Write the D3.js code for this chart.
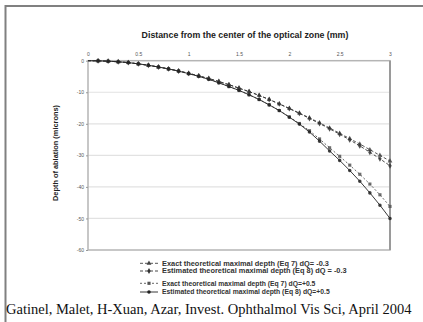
<!DOCTYPE html>
<html>
<head>
<meta charset="utf-8">
<script src="https://cdn.jsdelivr.net/npm/d3@7"></script>
<style>
  html, body { margin: 0; padding: 0; background: #fff; }
  svg { display: block; }
</style>
</head>
<body>
<svg id="chart" width="423" height="322"></svg>
<script>
// Distance from the centre of the optical zone (mm)
const distances = [0, 0.1, 0.2, 0.3, 0.4, 0.5, 0.6, 0.7, 0.8, 0.9, 1.0,
  1.1, 1.2, 1.3, 1.4, 1.5, 1.6, 1.7, 1.8, 1.9, 2.0,
  2.1, 2.2, 2.3, 2.4, 2.5, 2.6, 2.7, 2.8, 2.9, 3.0];

// Depth of ablation (microns) for each profile
const exactNeg = [0, -0.05, -0.15, -0.35, -0.6, -1.0, -1.45, -2.0, -2.6, -3.25, -4.0,
  -4.8, -5.65, -6.6, -7.6, -8.7, -9.8, -11.0, -12.3, -13.7, -15.1,
  -16.6, -18.1, -19.7, -21.3, -23.0, -24.7, -26.4, -28.2, -30.0, -31.8];
const estimNeg = [0, -0.05, -0.15, -0.35, -0.6, -1.0, -1.45, -2.0, -2.6, -3.25, -4.0,
  -4.8, -5.65, -6.6, -7.6, -8.7, -9.8, -11.0, -12.3, -13.7, -15.2,
  -16.7, -18.3, -19.9, -21.6, -23.3, -25.1, -27.0, -29.0, -31.1, -33.3];
const exactPos = [0, -0.05, -0.15, -0.35, -0.6, -1.0, -1.45, -2.0, -2.6, -3.3, -4.1,
  -4.95, -5.9, -7.0, -8.2, -9.4, -10.8, -12.3, -14.0, -15.8, -17.8,
  -19.9, -22.2, -24.8, -27.6, -30.3, -33.1, -36.0, -39.1, -42.5, -46.2];
const estimPos = [0, -0.05, -0.15, -0.35, -0.6, -1.0, -1.45, -2.0, -2.6, -3.3, -4.1,
  -4.95, -5.9, -7.0, -8.2, -9.4, -10.8, -12.3, -14.0, -15.8, -17.9,
  -20.1, -22.6, -25.5, -28.6, -31.6, -34.8, -38.2, -41.9, -45.8, -50.0];

const xTickValues = [0, 0.5, 1, 1.5, 2, 2.5, 3];
const xTickLabels = ["0", "0.5", "1", "1.5", "2", "2.5", "3"];
const yTickValues = [0, -10, -20, -30, -40, -50, -60];

const seriesNames = [
  "Exact theoretical maximal depth (Eq 7)  dQ= -0.3",
  "Estimated theoretical maximal depth (Eq 8)  dQ = -0.3",
  "Exact theoretical maximal depth (Eq 7)  dQ=+0.5",
  "Estimated theoretical maximal depth (Eq 8)  dQ=+0.5"
];

const series = [
  { name: seriesNames[0], values: exactNeg, symbol: d3.symbolTriangle, dash: "3,2", color: "#444" },
  { name: seriesNames[1], values: estimNeg, symbol: d3.symbolDiamond, dash: "3,2", color: "#333" },
  { name: seriesNames[2], values: exactPos, symbol: d3.symbolSquare, dash: "2,2", color: "#555" },
  { name: seriesNames[3], values: estimPos, symbol: d3.symbolCircle, dash: null, color: "#222" }
];

const svg = d3.select("#chart");
const sans = "Arial, 'Liberation Sans', sans-serif";

// outer frame (top and left edges)
svg.append("path")
  .attr("d", "M5.5,322 V6 H423")
  .attr("fill", "none")
  .attr("stroke", "#808080")
  .attr("stroke-width", 2);

const plot = { left: 88, right: 390, top: 60.7, bottom: 250 };

const x = d3.scaleLinear().domain([0, 3]).range([plot.left, plot.right]);
const y = d3.scaleLinear().domain([0, -60]).range([plot.top, plot.bottom]);

// horizontal gridlines
svg.append("g")
  .selectAll("line")
  .data(yTickValues.slice(1, -1))
  .join("line")
  .attr("x1", plot.left).attr("x2", plot.right)
  .attr("y1", d => y(d)).attr("y2", d => y(d))
  .attr("stroke", "#e2e2e2")
  .attr("stroke-width", 1.2);

// plot area border
svg.append("rect")
  .attr("x", plot.left).attr("y", plot.top)
  .attr("width", plot.right - plot.left)
  .attr("height", plot.bottom - plot.top)
  .attr("fill", "none")
  .attr("stroke", "#b5b5b5")
  .attr("stroke-width", 1.5);
svg.append("line")
  .attr("x1", plot.right).attr("x2", plot.right)
  .attr("y1", plot.top).attr("y2", plot.bottom)
  .attr("stroke", "#9a9a9a")
  .attr("stroke-width", 2);

// top x axis
const xAxis = d3.axisTop(x)
  .tickValues(xTickValues)
  .tickFormat((d, i) => xTickLabels[i])
  .tickSize(0)
  .tickPadding(5);
const gx = svg.append("g").attr("transform", `translate(0,${plot.top})`).call(xAxis);
gx.select(".domain").remove();
gx.selectAll("text")
  .attr("font-family", sans)
  .attr("font-size", 5)
  .attr("fill", "#555");

// left y axis
const yAxis = d3.axisLeft(y)
  .tickValues(yTickValues)
  .tickFormat(d3.format("d"))
  .tickSize(2)
  .tickPadding(2);
const gy = svg.append("g").attr("transform", `translate(${plot.left},0)`).call(yAxis);
gy.select(".domain").remove();
gy.selectAll("line").attr("stroke", "#999");
gy.selectAll("text")
  .text(d => d === 0 ? "0" : "-" + Math.abs(d))
  .attr("font-family", sans)
  .attr("font-size", 5)
  .attr("fill", "#555");

// titles
svg.append("text")
  .attr("x", 245).attr("y", 37.5)
  .attr("text-anchor", "middle")
  .attr("font-family", sans)
  .attr("font-weight", "bold")
  .attr("font-size", 8.8)
  .attr("fill", "#222")
  .text("Distance from the center of the optical zone (mm)");

svg.append("text")
  .attr("transform", `translate(57.5,153) rotate(-90)`)
  .attr("text-anchor", "middle")
  .attr("font-family", sans)
  .attr("font-weight", "bold")
  .attr("font-size", 7.4)
  .attr("fill", "#222")
  .text("Depth of ablation (microns)");

// curves
const line = d3.line()
  .x((d, i) => x(distances[i]))
  .y(d => y(d));

const symbolSize = 10;

series.forEach(s => {
  svg.append("path")
    .datum(s.values)
    .attr("d", line)
    .attr("fill", "none")
    .attr("stroke", s.color)
    .attr("stroke-width", 0.9)
    .attr("stroke-dasharray", s.dash);
  svg.append("g")
    .selectAll("path")
    .data(s.values.slice(1))
    .join("path")
    .attr("transform", (d, i) => `translate(${x(distances[i + 1])},${y(d)})`)
    .attr("d", d3.symbol().type(s.symbol).size(symbolSize))
    .attr("fill", s.color)
    .attr("opacity", 0.85);
});

// legend
const legendRows = [263.3, 271, 283.3, 292];
const legend = svg.append("g");
series.forEach((s, i) => {
  const ly = legendRows[i];
  legend.append("line")
    .attr("x1", 140).attr("x2", 158)
    .attr("y1", ly).attr("y2", ly)
    .attr("stroke", s.color)
    .attr("stroke-width", 0.9)
    .attr("stroke-dasharray", s.dash);
  legend.append("path")
    .attr("transform", `translate(149,${ly})`)
    .attr("d", d3.symbol().type(s.symbol).size(symbolSize))
    .attr("fill", s.color);
  legend.append("text")
    .attr("x", 162).attr("y", ly + 2.3)
    .attr("font-family", sans)
    .attr("font-weight", "bold")
    .attr("font-size", i < 2 ? 7.4 : 6.8)
    .attr("fill", "#333")
    .text(s.name);
});

// citation
svg.append("text")
  .attr("x", 6).attr("y", 314)
  .attr("font-family", "'Liberation Serif', 'Times New Roman', serif")
  .attr("font-size", 14.5)
  .attr("fill", "#111")
  .text("Gatinel, Malet, H-Xuan, Azar, Invest. Ophthalmol Vis Sci, April 2004");
</script>
</body>
</html>
